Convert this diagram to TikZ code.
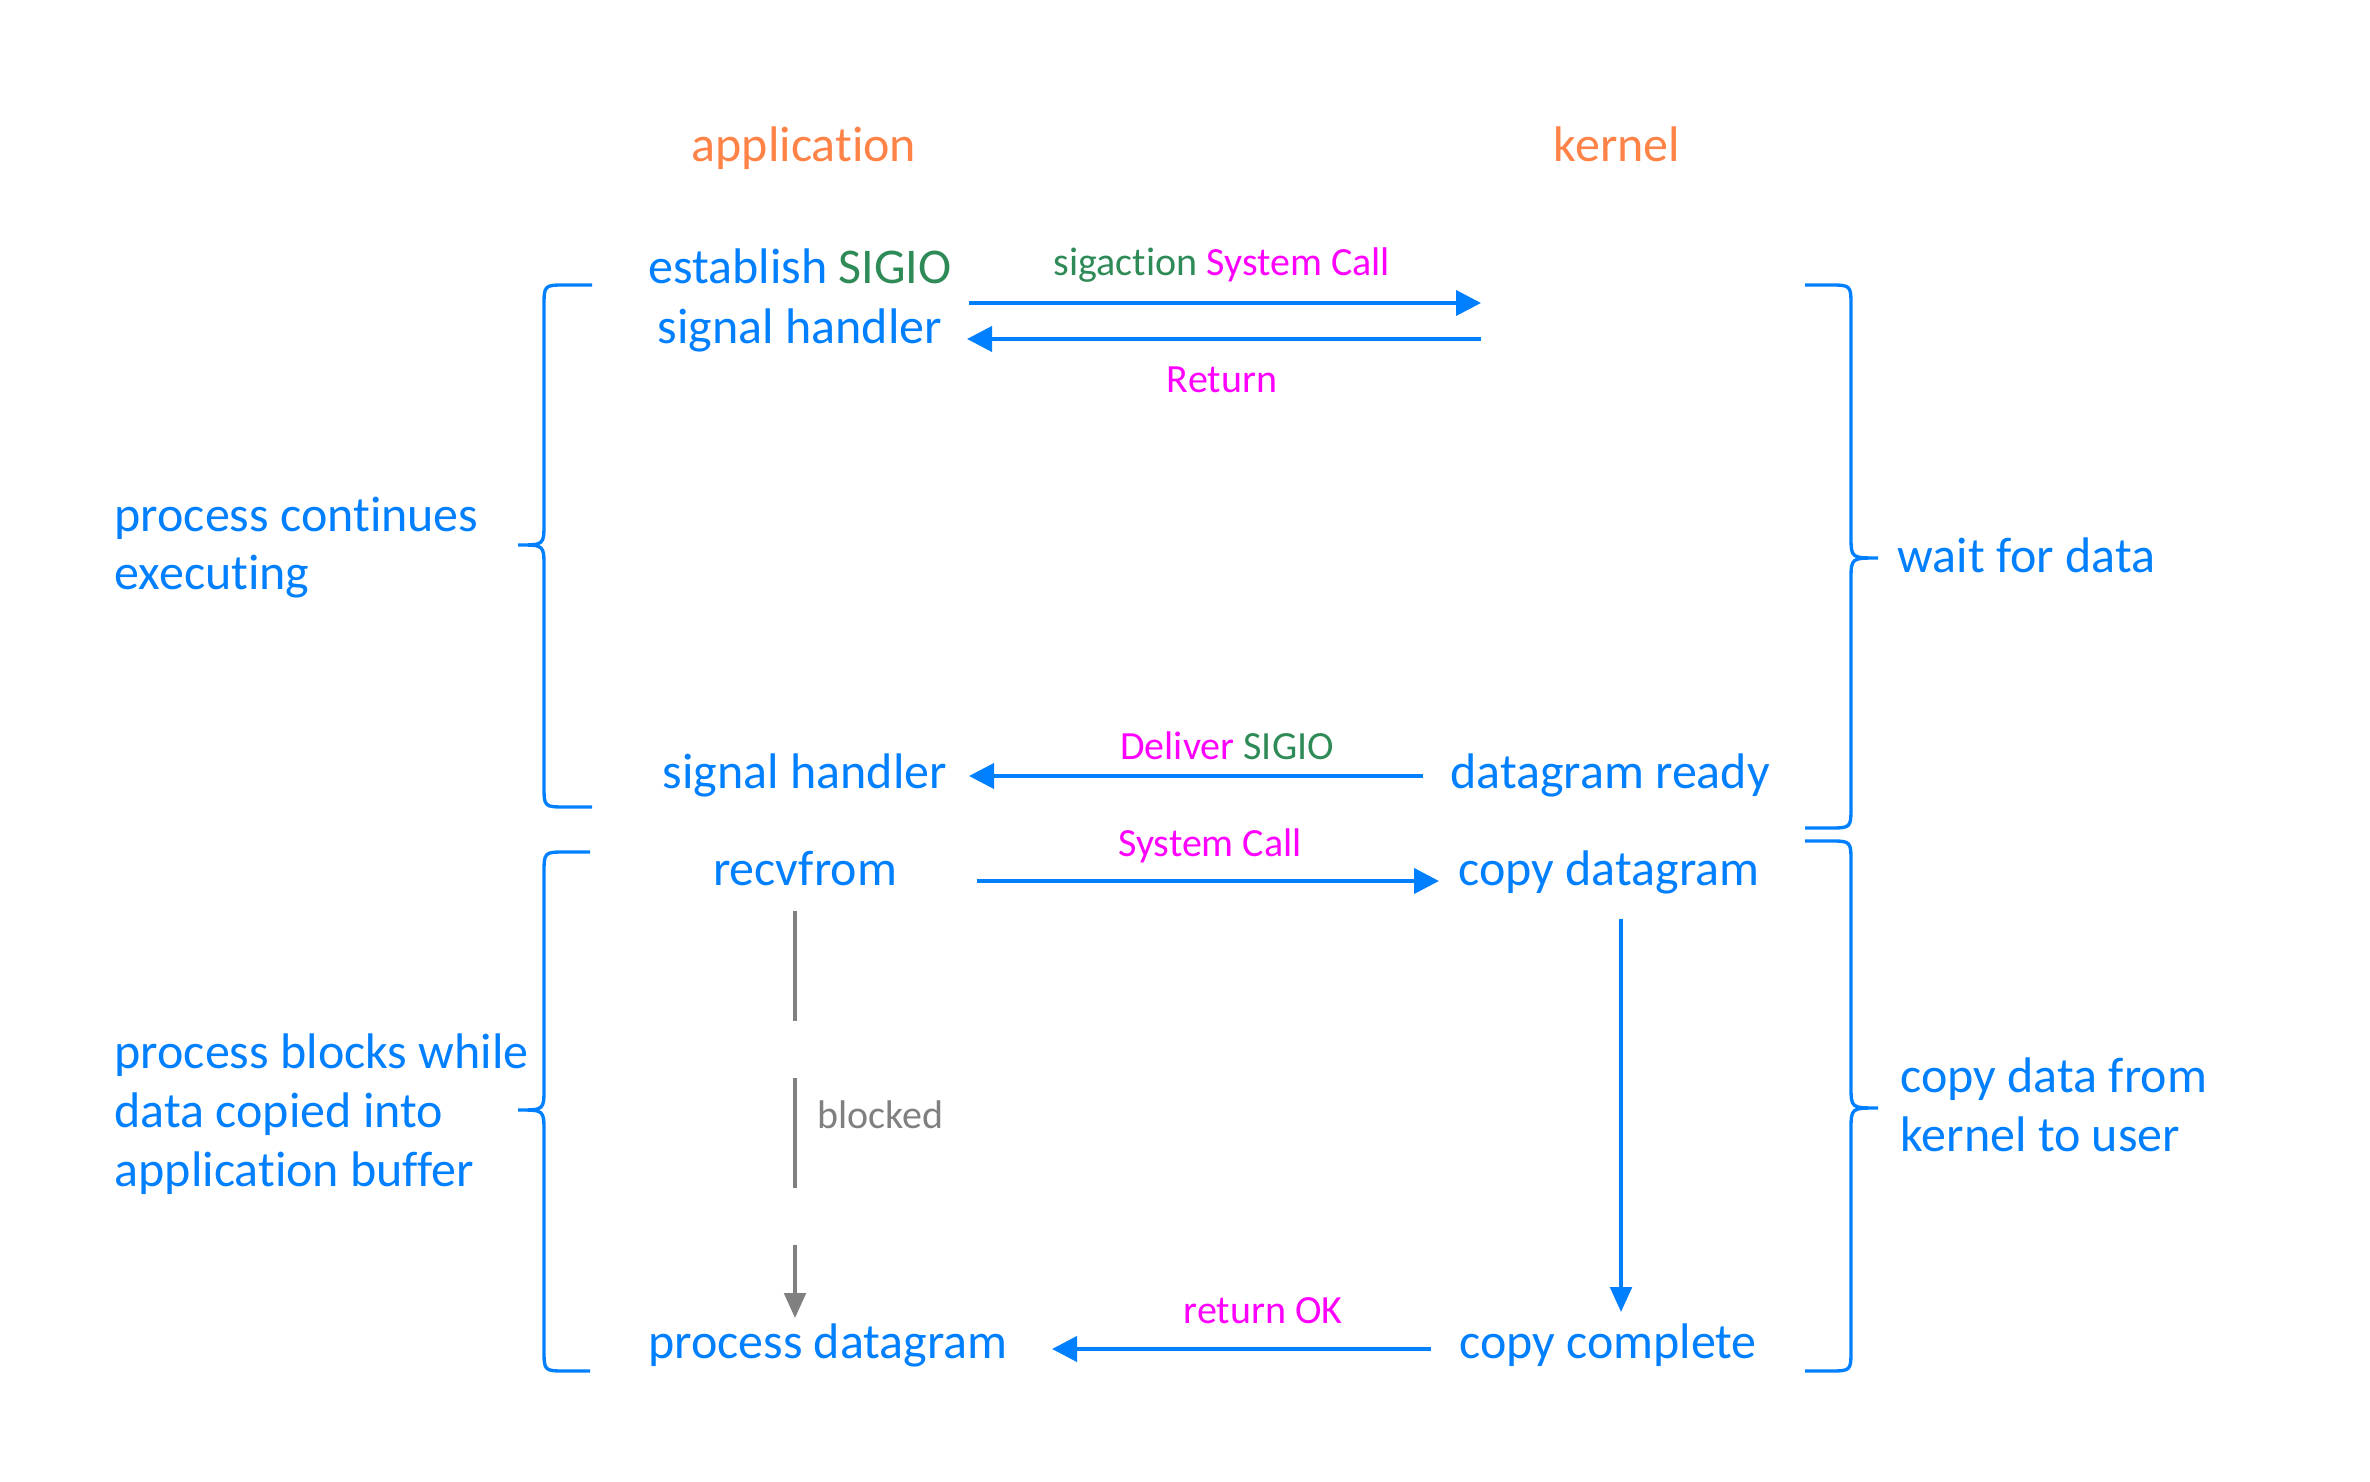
\documentclass[tikz,border=0pt]{standalone}
\usepackage{fontspec}
\setmainfont{Carlito}[Ligatures={NoCommon}]
\usetikzlibrary{arrows.meta}
\definecolor{cblue}{RGB}{0,128,255}
\definecolor{corange}{RGB}{255,130,70}
\definecolor{cgreen}{RGB}{46,139,87}
\definecolor{cmag}{RGB}{255,0,255}
\definecolor{cgray}{RGB}{128,128,128}
\begin{document}
\begin{tikzpicture}[x=0.3pt,y=-0.3pt,
  big/.style={font=\fontsize{15}{18}\selectfont, text=cblue, inner sep=0pt, anchor=base},
  head/.style={big, text=corange},
  small/.style={font=\fontsize{12}{14}\selectfont, inner sep=0pt, anchor=base},
  side/.style={font=\fontsize{15}{17.6}\selectfont, text=cblue, inner sep=0pt, anchor=base west, align=left},
  msg/.style={draw=cblue, line width=1.2pt, -{Triangle[length=7.5pt,width=7.5pt]}},
  down/.style={draw=cblue, line width=1pt, -{Triangle[length=7.5pt,width=6.5pt]}},
  waitline/.style={draw=cgray, line width=1pt, dash pattern=on 33pt off 17.1pt, -{Triangle[length=7.5pt,width=6.5pt]}},
  brace/.style={draw=cblue, line width=1pt}]
\path[use as bounding box, fill=white] (0,0) rectangle (2370,1482);

% column headings
\node[head] (app) at (804,162) {application};
\node[head] (ker) at (1617,162) {kernel};

% application side (multi-line nodes sit on the baseline of their last line)
\node[big, align=center] (est) at (800,344) {establish {\color{cgreen}SIGIO}\\signal handler};
\node[big] (sh) at (805,788) {signal handler};
\node[big] (rf) at (805,885) {recvfrom};
\node[big] (pd) at (828,1358) {process datagram};

% kernel side
\node[big] (dr) at (1610,788) {datagram ready};
\node[big] (cd) at (1609,885) {copy datagram};
\node[big] (cc) at (1608,1358) {copy complete};

% arrow labels
\node[small] (l1) at (1222,276) {\color{cgreen}sigaction \color{cmag}System Call};
\node[small, text=cmag] (l2) at (1222,393) {Return};
\node[small] (l3) at (1227,759) {\color{cmag}Deliver \color{cgreen}SIGIO};
\node[small, text=cmag] (l4) at (1210,856) {System Call};
\node[small, text=cmag] (l5) at (1263,1323) {return OK};
\node[small, text=cgray, anchor=base west] (bl) at (817,1128) {blocked};

% connector end points
\coordinate (a1s) at (969,303);  \coordinate (a1e) at (1481,303);
\coordinate (a2s) at (1481,339); \coordinate (a2e) at (967,339);
\coordinate (a3s) at (1423,776); \coordinate (a3e) at (969,776);
\coordinate (a4s) at (977,881);  \coordinate (a4e) at (1439,881);
\coordinate (a5s) at (1621,919); \coordinate (a5e) at (1621,1312);
\coordinate (a6s) at (1431,1349);\coordinate (a6e) at (1052,1349);
\coordinate (a7s) at (795,911);  \coordinate (a7e) at (795,1318);

\draw[msg] (a1s) -- (a1e);
\draw[msg] (a2s) -- (a2e);
\draw[msg] (a3s) -- (a3e);
\draw[msg] (a4s) -- (a4e);
\draw[down] (a5s) -- (a5e);
\draw[msg] (a6s) -- (a6e);
\draw[waitline] (a7s) -- (a7e);

% left braces
\draw[brace] (592,285) -- (566,285) .. controls (544,285) .. (544,307) -- (544,523)
  .. controls (544,545) .. (518,545) .. controls (544,545) .. (544,567) -- (544,785)
  .. controls (544,807) .. (566,807) -- (592,807);
\draw[brace] (590,852) -- (566,852) .. controls (544,852) .. (544,874) -- (544,1088)
  .. controls (544,1110) .. (518,1110) .. controls (544,1110) .. (544,1132) -- (544,1349)
  .. controls (544,1371) .. (566,1371) -- (590,1371);

% right braces
\draw[brace] (1805,285) -- (1829,285) .. controls (1851,285) .. (1851,307) -- (1851,536)
  .. controls (1851,558) .. (1878,558) .. controls (1851,558) .. (1851,580) -- (1851,806)
  .. controls (1851,828) .. (1829,828) -- (1805,828);
\draw[brace] (1805,841) -- (1829,841) .. controls (1851,841) .. (1851,863) -- (1851,1086)
  .. controls (1851,1108) .. (1878,1108) .. controls (1851,1108) .. (1851,1130) -- (1851,1349)
  .. controls (1851,1371) .. (1829,1371) -- (1805,1371);

% side labels
\node[side] (pce) at (114,590) {process continues\\executing};
\node[side] (pbw) at (114,1186) {process blocks while\\data copied into\\application buffer};
\node[side] (wfd) at (1897,573) {wait for data};
\node[side] (cdk) at (1900,1151) {copy data from\\kernel to user};
\end{tikzpicture}
\end{document}
